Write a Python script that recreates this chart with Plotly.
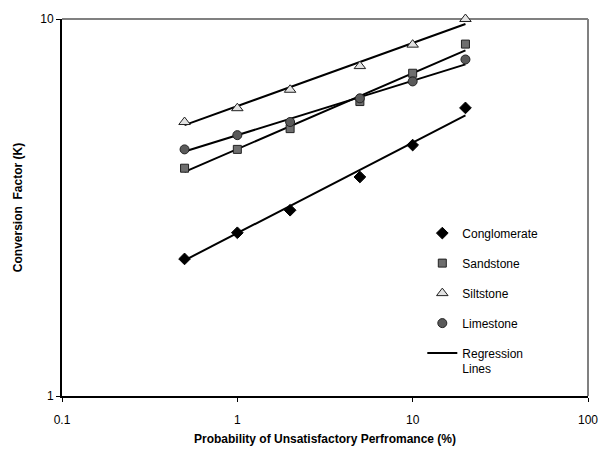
import plotly.graph_objects as go

# Data
prob = [0.5, 1, 2, 5, 10, 20]
conglomerate = [2.31, 2.71, 3.11, 3.81, 4.63, 5.81]
sandstone = [4.02, 4.51, 5.12, 6.04, 7.18, 8.58]
siltstone = [5.33, 5.80, 6.49, 7.50, 8.55, 10.0]
limestone = [4.51, 4.92, 5.33, 6.16, 6.83, 7.81]

# Regression lines (values at the ends of each fitted line)
reg_x = [0.5, 20]
reg_conglomerate = [2.29, 5.55]
reg_sandstone = [3.93, 8.26]
reg_siltstone = [5.23, 9.70]
reg_limestone = [4.45, 7.58]

x_ticks = [0.1, 1, 10, 100]
x_ticktext = ["0.1", "1", "10", "100"]
y_ticks = [1, 10]
y_ticktext = ["1", "10"]

FONT = "Liberation Sans, Arial, sans-serif"

fig = go.Figure()

regs = [reg_conglomerate, reg_sandstone, reg_siltstone, reg_limestone]
for i, r in enumerate(regs):
    fig.add_trace(go.Scatter(
        x=reg_x, y=r, mode="lines",
        line=dict(color="black", width=2),
        name="Regression<br>Lines", legendgroup="reg", legendrank=5,
        showlegend=(i == 0), hoverinfo="skip", cliponaxis=False))

series = [
    ("Conglomerate", conglomerate, dict(symbol="diamond", size=9, color="black",
                                        line=dict(color="black", width=1))),
    ("Sandstone", sandstone, dict(symbol="square", size=8, color="#6e6e6e",
                                  line=dict(color="#222222", width=1))),
    ("Siltstone", siltstone, dict(symbol="triangle-up", size=10, color="#e2e2e2",
                                  line=dict(color="#222222", width=1))),
    ("Limestone", limestone, dict(symbol="circle", size=9, color="#5a5a5a",
                                  line=dict(color="#222222", width=1))),
]
for rank, (name, vals, mk) in enumerate(series, start=1):
    fig.add_trace(go.Scatter(
        x=prob, y=vals, mode="markers", marker=mk, name=name,
        legendgroup=name, legendrank=rank, cliponaxis=False))

fig.update_layout(
    width=610, height=456,
    margin=dict(l=62, r=19, t=19, b=55),
    paper_bgcolor="white", plot_bgcolor="white",
    font=dict(family=FONT, size=12, color="black"),
    showlegend=True,
    legend=dict(x=0.685, y=0.47, xanchor="left", yanchor="top",
                bgcolor="rgba(0,0,0,0)", tracegroupgap=11,
                font=dict(family=FONT, size=12, color="black"),
                valign="top", itemwidth=30),
    shapes=[
        dict(type="line", xref="paper", yref="paper", x0=0, x1=1, y0=1, y1=1,
             line=dict(color="#808080", width=2), layer="below"),
        dict(type="line", xref="paper", yref="paper", x0=1, x1=1, y0=0, y1=1,
             line=dict(color="#808080", width=2), layer="below"),
    ],
)

fig.update_xaxes(
    type="log", range=[-1, 2],
    tickvals=x_ticks, ticktext=x_ticktext,
    ticks="outside", ticklen=4, tickcolor="black", tickwidth=1,
    ticklabelstandoff=8,
    showgrid=False, zeroline=False,
    showline=True, linecolor="black", linewidth=2,
    tickfont=dict(family=FONT, size=12),
    title=dict(text="<b>Probability of Unsatisfactory Perfromance (%)</b>",
               font=dict(family=FONT, size=12), standoff=8),
)
fig.update_yaxes(
    type="log", range=[0, 1],
    tickvals=y_ticks, ticktext=y_ticktext,
    ticks="outside", ticklen=4, tickcolor="black", tickwidth=1,
    showgrid=False, zeroline=False,
    showline=True, linecolor="black", linewidth=2,
    tickfont=dict(family=FONT, size=12),
    title=dict(text="<b>Conversion\u00a0 Factor (K)</b>",
               font=dict(family=FONT, size=12), standoff=15),
)

fig.write_html("out.html")
